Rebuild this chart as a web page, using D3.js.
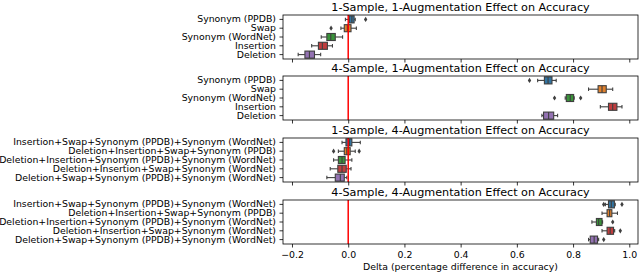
<!DOCTYPE html>
<html>
<head>
<meta charset="utf-8">
<script src="https://cdn.jsdelivr.net/npm/d3@7"></script>
<style>
  body { margin: 0; background: #fff; }
  svg text { font-family: "DejaVu Sans", sans-serif; fill: #000; }
</style>
</head>
<body>
<script>
// Panel titles
var titles = [
  '1-Sample, 1-Augmentation Effect on Accuracy',
  '4-Sample, 1-Augmentation Effect on Accuracy',
  '1-Sample, 4-Augmentation Effect on Accuracy',
  '4-Sample, 4-Augmentation Effect on Accuracy'
];

// Row labels
var singleAugLabels = ['Synonym (PPDB)', 'Swap', 'Synonym (WordNet)', 'Insertion', 'Deletion'];
var multiAugLabels = [
  'Insertion+Swap+Synonym (PPDB)+Synonym (WordNet)',
  'Deletion+Insertion+Swap+Synonym (PPDB)',
  'Deletion+Insertion+Synonym (PPDB)+Synonym (WordNet)',
  'Deletion+Insertion+Swap+Synonym (WordNet)',
  'Deletion+Swap+Synonym (PPDB)+Synonym (WordNet)'
];

// Box stats per row: [whisker low, q1, median, q3, whisker high]
var s1a1Stats = [
  [-0.010, 0.004, 0.013, 0.021, 0.025],
  [-0.026, -0.014, -0.003, 0.010, 0.029],
  [-0.096, -0.076, -0.062, -0.046, -0.020],
  [-0.130, -0.106, -0.092, -0.074, -0.056],
  [-0.178, -0.154, -0.138, -0.120, -0.098]
];
var s1a1Outliers = [[0.062], [-0.061], [], [], []];

var s4a1Stats = [
  [0.674, 0.698, 0.711, 0.725, 0.740],
  [0.855, 0.889, 0.903, 0.918, 0.941],
  [0.772, 0.776, 0.790, 0.802, 0.804],
  [0.897, 0.926, 0.941, 0.956, 0.974],
  [0.689, 0.695, 0.713, 0.731, 0.745]
];
var s4a1Outliers = [[0.645], [], [0.734, 0.827], [], []];

var s1a4Stats = [
  [-0.022, -0.008, 0.004, 0.013, 0.043],
  [-0.035, -0.014, -0.005, 0.007, 0.025],
  [-0.052, -0.035, -0.022, -0.011, 0.013],
  [-0.064, -0.037, -0.022, -0.007, 0.010],
  [-0.076, -0.046, -0.028, -0.014, -0.005]
];
var s1a4Outliers = [[], [-0.052, 0.039], [], [], []];

var s4a4Stats = [
  [0.915, 0.926, 0.936, 0.947, 0.950],
  [0.903, 0.921, 0.930, 0.938, 0.958],
  [0.867, 0.883, 0.891, 0.903, 0.905],
  [0.903, 0.921, 0.932, 0.944, 0.948],
  [0.855, 0.861, 0.875, 0.887, 0.891]
];
var s4a4Outliers = [[0.909, 0.974], [], [0.941], [0.968], [0.909]];

var xTicks = [-0.2, 0.0, 0.2, 0.4, 0.6, 0.8, 1.0];
var xDomain = [-0.232, 1.031];

var panels = [
  { title: titles[0], labels: singleAugLabels, stats: s1a1Stats, outliers: s1a1Outliers },
  { title: titles[1], labels: singleAugLabels, stats: s4a1Stats, outliers: s4a1Outliers },
  { title: titles[2], labels: multiAugLabels, stats: s1a4Stats, outliers: s1a4Outliers },
  { title: titles[3], labels: multiAugLabels, stats: s4a4Stats, outliers: s4a4Outliers }
];

// seaborn deep palette, desaturated as in boxplot
var colors = ['#3274a1', '#e1812c', '#3a923a', '#c03d3e', '#9372b2'];
var edge = '#3f3f3f';

var width = 640, height = 273;
var left = 283, right = 638;
var panelTops = [15, 76, 138, 200];
var panelH = 44;
var tickFont = '9.35px';

var svg = d3.select('body').append('svg').attr('width', width).attr('height', height);

var x = d3.scaleLinear().domain(xDomain).range([left, right]);

panels.forEach(function (p, i) {
  var top = panelTops[i];
  var y = d3.scaleBand().domain(p.labels).range([top, top + panelH]);
  var g = svg.append('g').attr('class', 'panel');

  // title
  g.append('text')
    .attr('x', (left + right) / 2)
    .attr('y', top - 4)
    .attr('text-anchor', 'middle')
    .style('font-size', '11.2px')
    .text(p.title);

  // x axis, labels only on the bottom panel
  var xAxis = d3.axisBottom(x).tickValues(xTicks).tickSize(3.5).tickPadding(3.5)
    .tickFormat(i === 3 ? function (d) { return d3.format('.1f')(d).replace('-', '\u2212'); } : '');
  var ax = g.append('g').attr('transform', 'translate(0,' + (top + panelH) + ')').call(xAxis);
  ax.select('.domain').remove();
  ax.selectAll('line').attr('stroke', '#000').attr('stroke-width', 0.8);
  ax.selectAll('text').style('font-size', tickFont).attr('fill', '#000');

  // y axis
  var yAxis = d3.axisLeft(y).tickSize(3.5).tickPadding(3.5);
  var ay = g.append('g').attr('transform', 'translate(' + left + ',0)').call(yAxis);
  ay.select('.domain').remove();
  ay.selectAll('line').attr('stroke', '#000').attr('stroke-width', 0.8);
  ay.selectAll('text').style('font-size', tickFont).attr('fill', '#000');

  var bw = y.bandwidth() * 0.8;

  var rows = g.selectAll('g.row')
    .data(p.stats)
    .enter()
    .append('g')
    .attr('class', 'row')
    .attr('transform', function (d, j) { return 'translate(0,' + (y(p.labels[j]) + y.bandwidth() / 2) + ')'; });

  // whiskers
  rows.append('line')
    .attr('x1', function (d) { return x(d[0]); })
    .attr('x2', function (d) { return x(d[1]); })
    .attr('stroke', edge).attr('stroke-width', 1.1);
  rows.append('line')
    .attr('x1', function (d) { return x(d[3]); })
    .attr('x2', function (d) { return x(d[4]); })
    .attr('stroke', edge).attr('stroke-width', 1.1);
  // caps
  rows.append('line')
    .attr('x1', function (d) { return x(d[0]); })
    .attr('x2', function (d) { return x(d[0]); })
    .attr('y1', -bw / 4).attr('y2', bw / 4)
    .attr('stroke', edge).attr('stroke-width', 1.1);
  rows.append('line')
    .attr('x1', function (d) { return x(d[4]); })
    .attr('x2', function (d) { return x(d[4]); })
    .attr('y1', -bw / 4).attr('y2', bw / 4)
    .attr('stroke', edge).attr('stroke-width', 1.1);
  // box
  rows.append('rect')
    .attr('x', function (d) { return x(d[1]); })
    .attr('width', function (d) { return x(d[3]) - x(d[1]); })
    .attr('y', -bw / 2)
    .attr('height', bw)
    .attr('fill', function (d, j) { return colors[j]; })
    .attr('stroke', edge).attr('stroke-width', 1.1);
  // median
  rows.append('line')
    .attr('x1', function (d) { return x(d[2]); })
    .attr('x2', function (d) { return x(d[2]); })
    .attr('y1', -bw / 2).attr('y2', bw / 2)
    .attr('stroke', edge).attr('stroke-width', 1.1);
  // outliers
  rows.each(function (d, j) {
    d3.select(this).selectAll('path.flier')
      .data(p.outliers[j])
      .enter()
      .append('path')
      .attr('class', 'flier')
      .attr('d', 'M0,-2.6L1.7,0L0,2.6L-1.7,0Z')
      .attr('transform', function (v) { return 'translate(' + x(v) + ',0)'; })
      .attr('fill', edge);
  });

  // zero line
  g.append('line')
    .attr('x1', x(0)).attr('x2', x(0))
    .attr('y1', top).attr('y2', top + panelH)
    .attr('stroke', '#ff0000').attr('stroke-width', 1.5);

  // frame
  g.append('rect')
    .attr('x', left).attr('y', top)
    .attr('width', right - left).attr('height', panelH)
    .attr('fill', 'none').attr('stroke', '#000').attr('stroke-width', 0.8);
});

svg.append('text')
  .attr('x', (left + right) / 2)
  .attr('y', 270)
  .attr('text-anchor', 'middle')
  .style('font-size', tickFont)
  .text('Delta (percentage difference in accuracy)');
</script>
</body>
</html>
